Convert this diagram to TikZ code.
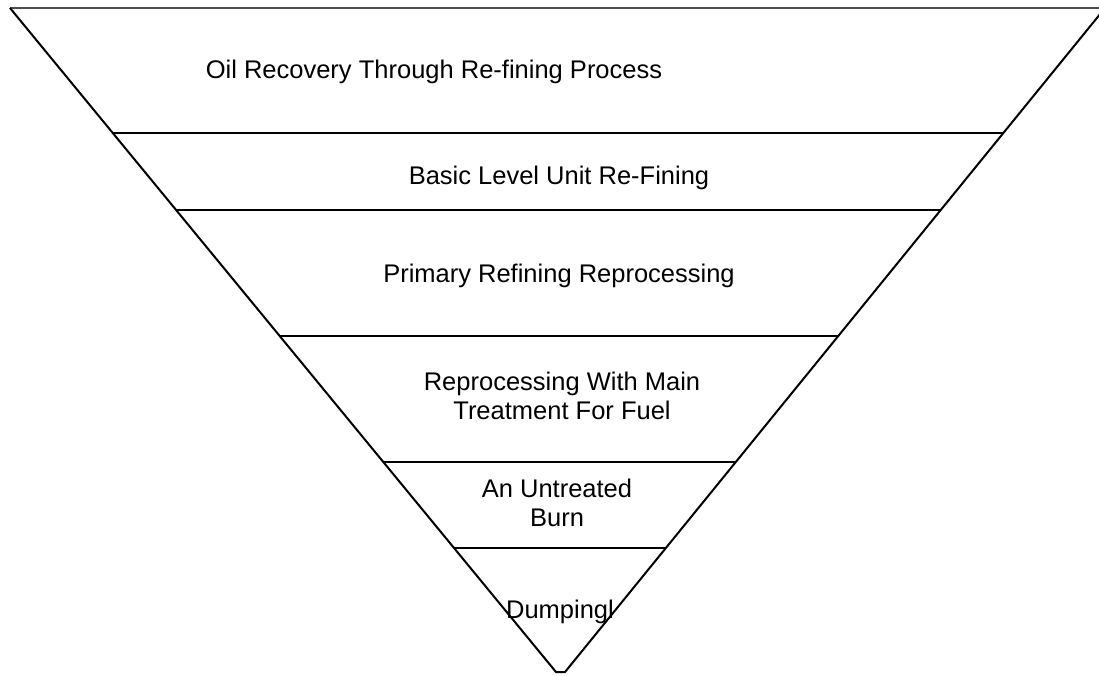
\documentclass[tikz,border=0pt]{standalone}
\usepackage{fontspec}
\setmainfont{Liberation Sans}
\usetikzlibrary{calc}

\tikzset{
  level/.style={font=\fontsize{25.5}{29}\selectfont,align=center,anchor=base,inner sep=0pt},
  rung/.style={line width=2pt},
  rim/.style={line width=1.4pt,black!70}
}

\begin{document}
\begin{tikzpicture}[x=1pt,y=-1pt]
  \useasboundingbox (0,0) rectangle (1099,675);
  \clip (0,0) rectangle (1099,675);
  % corners of the funnel
  \coordinate (tl) at (10,8);
  \coordinate (bl) at (556,672);
  \coordinate (tr) at (1105,8);
  \coordinate (br) at (565,672);
  \coordinate (ed) at (1099,8);

  \draw[rim] (tl) -- (ed);
  \draw[rung] (tl) -- (bl) -- (br) -- (tr);
  \foreach \t in {0.1883,0.3042,0.4940,0.6837,0.8133}
    \draw[rung] ($(tl)!\t!(bl)$) -- ($(tr)!\t!(br)$);

  % base is the last line of a node
  \node[level] (oil)  at (434,78)  {Oil Recovery Through Re-fining Process};
  \node[level] (unit) at (559,184) {Basic Level Unit Re-Fining};
  \node[level] (prim) at (559,282) {Primary Refining Reprocessing};
  \node[level] (fuel) at (562,419) {Reprocessing With Main\\Treatment For Fuel};
  \node[level] (burn) at (557,526) {An Untreated\\Burn};
  \node[level] (dump) at (560,618) {Dumpingl};
\end{tikzpicture}
\end{document}
